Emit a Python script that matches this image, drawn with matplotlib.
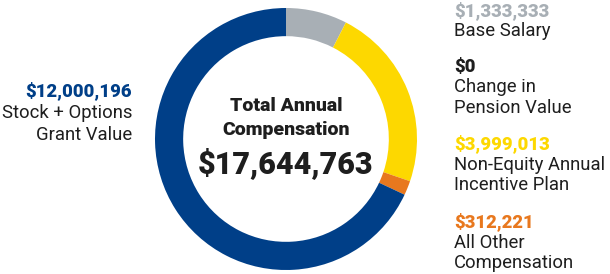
import matplotlib.pyplot as plt

plt.rcParams['font.family'] = ['Roboto', 'DejaVu Sans']

# compensation components, clockwise from 12 o'clock
labels = ["Base Salary", "Change in\nPension Value", "Non-Equity Annual\nIncentive Plan",
          "All Other\nCompensation", "Stock + Options\nGrant Value"]
values = [1333333, 0, 3999013, 312221, 12000196]
colors = ["#a8afb5", "#1e1e1e", "#fdd800", "#e8781e", "#003f88"]
total = 17644763

fig = plt.figure(figsize=(6.10, 2.74), dpi=100)
ax = fig.add_axes([155 / 610, 4 / 274, 262 / 610, 262 / 274])
ax.pie(values, colors=colors, startangle=90, counterclock=False,
       wedgeprops=dict(width=0.215, linewidth=0))
ax.set_xlim(-1, 1)
ax.set_ylim(-1, 1)
ax.set_aspect('equal')

# centre text
dark = "#1e1e1e"
ax.text(0, 0.25, "Total Annual", ha='center', va='center', fontsize=14, fontweight='heavy', color=dark)
ax.text(0, 0.07, "Compensation", ha='center', va='center', fontsize=14, fontweight='heavy', color=dark)
ax.text(0, -0.18, "${:,}".format(total), ha='center', va='center', fontsize=22, fontweight='heavy', color=dark)

def px(x, y):
    return x / 610, 1 - y / 274

fs = 13.3

# left label (stock + options)
fig.text(*px(132, 91), "${:,}".format(values[4]), ha='right', va='center',
         fontsize=fs, fontweight='heavy', color=colors[4])
fig.text(*px(132, 113), "Stock + Options", ha='right', va='center', fontsize=fs, color=dark)
fig.text(*px(132, 135), "Grant Value", ha='right', va='center', fontsize=fs, color=dark)

# right labels
value_y = [11, 67, 144, 222]
for i, vy in enumerate(value_y):
    fig.text(*px(454, vy), "${:,}".format(values[i]), ha='left', va='center',
             fontsize=fs, fontweight='heavy', color=colors[i])
    for j, line in enumerate(labels[i].split("\n")):
        fig.text(*px(454, vy + 20.5 * (j + 1)), line, ha='left', va='center',
                 fontsize=fs, color=dark)

fig.savefig("out.png", dpi=100)
